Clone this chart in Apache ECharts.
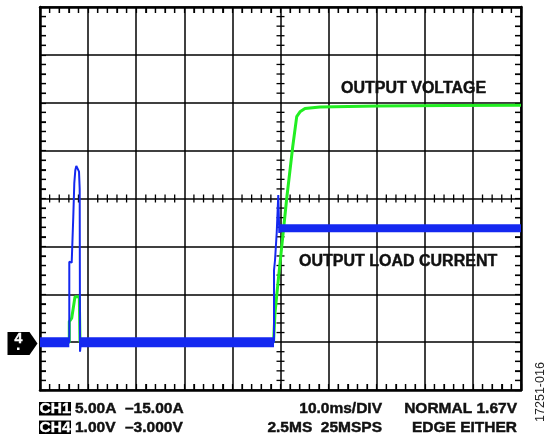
<!DOCTYPE html>
<html>
<head>
<meta charset="utf-8">
<script src="https://cdn.jsdelivr.net/npm/echarts@6/dist/echarts.min.js"></script>
<style>
html,body{margin:0;padding:0;background:#fff;}
#c{width:548px;height:438px;}
</style>
</head>
<body>
<div id="c"></div>
<script>
// ---- data (x in time divisions 0..10, y in vertical divisions 0..8) ----
const xDivs = [0, 10];
const yDivs = [0, 8];
const minorPerDiv = 5;

// CH4 blue: output load current
const blueTrace = [
  [0, 1.0], [0.609, 1.0], [0.609, 2.68], [0.659, 2.66], [0.692, 3.62], [0.713, 4.32],
  [0.734, 4.59], [0.755, 4.68], [0.785, 4.68], [0.811, 4.56], [0.825, 4.2], [0.832, 0.8],
  [0.852, 1.0], [4.865, 1.0], [4.865, 2.5], [4.886, 2.71], [4.921, 3.28], [4.954, 4.07],
  [4.975, 3.28], [4.99, 3.38], [10, 3.38]
];
const blueBaselineBand = [[0, 1.0], [0.609, 1.0], null, [0.852, 1.0], [4.865, 1.0]];
const blueStepBand = [[4.975, 3.38], [10, 3.38]];

// CH1 green: output voltage
const greenTrace = [
  [0, 1.0], [0.609, 1.0], [0.609, 1.43], [0.659, 1.5], [0.728, 1.95], [0.817, 1.95],
  [0.832, 1.0], [4.855, 1.0], [4.886, 1.61], [4.954, 2.30], [5.129, 4.0], [5.254, 5.08],
  [5.337, 5.71], [5.405, 5.81], [5.509, 5.88], [5.821, 5.91], [7.0, 5.93], [8.5, 5.94], [10, 5.95]
];

const traceLabels = ['OUTPUT VOLTAGE', 'OUTPUT LOAD CURRENT'];
const chBoxes = ['CH1', 'CH4'];
const chRow1 = ['5.00A', '\u201315.00A'];
const chRow2 = ['1.00V', '\u20133.000V'];
const timeInfo = ['10.0ms/DIV', '2.5MS  25MSPS'];
const trigInfo = ['NORMAL 1.67V', 'EDGE EITHER'];
const figId = '17251-016';
const markerText = '4';

// ---- chart ----
const BLACK = '#000';
const BLUE = '#1428f0';
const GREEN = '#22ee22';
const FONT = 'bold 15.5px "Liberation Sans", Arial, sans-serif';
const LFONT = 'bold 16px "Liberation Sans", Arial, sans-serif';

function ax(pos, range, opts) {
  const o = opts || {};
  return {
    type: 'value', gridIndex: 0, position: pos,
    min: range[0], max: range[1], interval: 1,
    axisLabel: {show: false},
    splitLine: {show: !!o.split, lineStyle: {color: BLACK, width: 1.5}},
    axisLine: {show: true, onZero: false, lineStyle: {color: BLACK, width: 2.5}},
    axisTick: {show: true, inside: true, length: 6, lineStyle: {color: BLACK, width: 1.2}},
    minorTick: {show: true, splitNumber: minorPerDiv, length: 6, lineStyle: {color: BLACK, width: 1.2}}
  };
}

// scope graticule ticks, placed through the axes' own coordinate mapping
function renderTicks(params, api) {
  const kids = [];
  const EDGE = 6, MID = 4;
  const xMid = (xDivs[0] + xDivs[1]) / 2, yMid = (yDivs[0] + yDivs[1]) / 2;
  const seg = (x1, y1, x2, y2) => kids.push({type: 'line',
    shape: {x1: x1, y1: y1, x2: x2, y2: y2}, style: {stroke: BLACK, lineWidth: 1.3}});
  const nx = (xDivs[1] - xDivs[0]) * minorPerDiv;
  for (let i = 1; i < nx; i++) {
    if (i % minorPerDiv === 0) continue;
    const v = xDivs[0] + i / minorPerDiv;
    const pb = api.coord([v, yDivs[0]]);
    const pt = api.coord([v, yDivs[1]]);
    const pm = api.coord([v, yMid]);
    seg(pt[0], pt[1], pt[0], pt[1] + EDGE);
    seg(pb[0], pb[1], pb[0], pb[1] - EDGE);
    seg(pm[0], pm[1] - MID, pm[0], pm[1] + MID);
  }
  const ny = (yDivs[1] - yDivs[0]) * minorPerDiv;
  for (let j = 1; j < ny; j++) {
    if (j % minorPerDiv === 0) continue;
    const v = yDivs[0] + j / minorPerDiv;
    const pl = api.coord([xDivs[0], v]);
    const pr = api.coord([xDivs[1], v]);
    const pm = api.coord([xMid, v]);
    seg(pl[0], pl[1], pl[0] + EDGE, pl[1]);
    seg(pr[0], pr[1], pr[0] - EDGE, pr[1]);
    seg(pm[0] - MID, pm[1], pm[0] + MID, pm[1]);
  }
  return {type: 'group', children: kids};
}

function txt(x, y, s, font, fill, align, extra) {
  return Object.assign({type: 'text', x: x, y: y, z: 10, style: {
    text: s, font: font, fill: fill, stroke: fill, lineWidth: 0.45,
    textAlign: align || 'left', textVerticalAlign: 'middle'}}, extra || {});
}

const chart = echarts.init(document.getElementById('c'), null, {renderer: 'canvas'});
chart.setOption({
  animation: false,
  backgroundColor: '#fff',
  grid: {left: 40, top: 7, width: 481, height: 383},
  xAxis: [
    ax('bottom', xDivs, {split: true}),
    ax('top', xDivs)
  ],
  yAxis: [
    ax('left', yDivs, {split: true}),
    ax('right', yDivs)
  ],
  series: [
    {type: 'custom', name: 'ticks', xAxisIndex: 0, yAxisIndex: 0, data: [[xDivs[0], yDivs[0]]],
      renderItem: renderTicks, silent: true, clip: false, z: 2},
    {type: 'line', name: 'green', xAxisIndex: 0, yAxisIndex: 0, data: greenTrace, showSymbol: false, symbol: 'none',
      lineStyle: {color: GREEN, width: 3}, z: 3},
    {type: 'line', name: 'blueBase', xAxisIndex: 0, yAxisIndex: 0, data: blueBaselineBand, showSymbol: false, symbol: 'none',
      connectNulls: false, lineStyle: {color: BLUE, width: 10}, z: 4},
    {type: 'line', name: 'blueStep', xAxisIndex: 0, yAxisIndex: 0, data: blueStepBand, showSymbol: false, symbol: 'none',
      lineStyle: {color: BLUE, width: 8}, z: 4},
    {type: 'line', name: 'blue', xAxisIndex: 0, yAxisIndex: 0, data: blueTrace, showSymbol: false, symbol: 'none',
      lineStyle: {color: BLUE, width: 2}, z: 5}
  ],
  graphic: [
    txt(341, 88.5, traceLabels[0], LFONT, '#111'),
    txt(299, 261.5, traceLabels[1], LFONT, '#111'),
    // channel marker
    {type: 'polygon', z: 10, shape: {points: [[7.5, 332], [29.5, 332], [37.5, 343.5], [29.5, 355], [7.5, 355]]}, style: {fill: BLACK}},
    txt(18.5, 339, markerText, 'bold 14px "Liberation Sans", Arial, sans-serif', '#fff', 'center', {z: 11}),
    {type: 'rect', z: 11, shape: {x: 17, y: 347.5, width: 2.5, height: 2.5}, style: {fill: '#fff'}},
    // bottom text
    {type: 'rect', z: 10, shape: {x: 39, y: 402, width: 32, height: 13.5}, style: {fill: BLACK}},
    {type: 'rect', z: 10, shape: {x: 39, y: 420.5, width: 32, height: 13.5}, style: {fill: BLACK}},
    txt(55, 409, chBoxes[0], FONT, '#fff', 'center', {z: 11}),
    txt(55, 427.5, chBoxes[1], FONT, '#fff', 'center', {z: 11}),
    txt(75, 409, chRow1[0], FONT, '#111'),
    txt(125, 409, chRow1[1], FONT, '#111'),
    txt(75, 427.5, chRow2[0], FONT, '#111'),
    txt(125, 427.5, chRow2[1], FONT, '#111'),
    txt(382, 409, timeInfo[0], FONT, '#111', 'right'),
    txt(382, 427.5, timeInfo[1], FONT, '#111', 'right'),
    txt(517, 409, trigInfo[0], FONT, '#111', 'right'),
    txt(517, 427.5, trigInfo[1], FONT, '#111', 'right'),
    {type: 'text', x: 541, y: 392, rotation: Math.PI / 2, z: 10, style: {text: figId, font: '12.5px "Liberation Sans", Arial, sans-serif', fill: '#222', textAlign: 'center', textVerticalAlign: 'middle'}}
  ]
});
</script>
</body>
</html>
